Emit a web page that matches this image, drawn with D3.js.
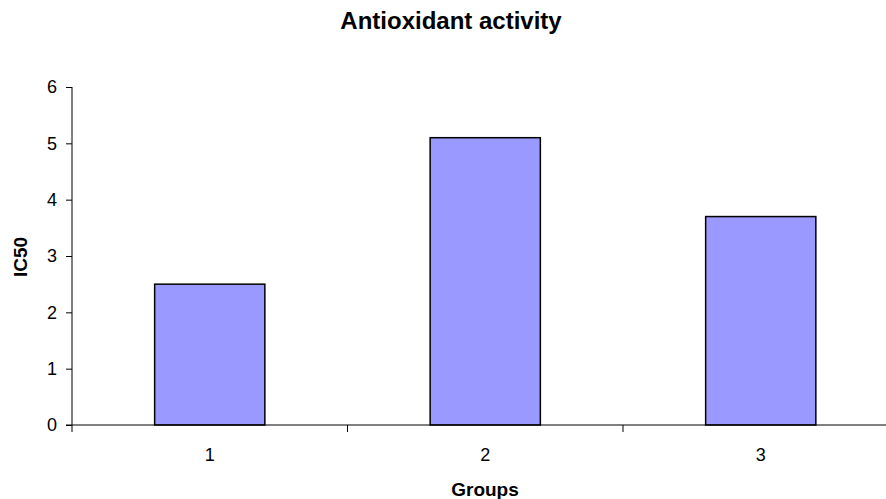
<!DOCTYPE html>
<html><head><meta charset="utf-8">
<script src="https://cdn.jsdelivr.net/npm/d3@7"></script>
<style>body{margin:0;background:#fff}svg{display:block}text{font-family:"Liberation Sans",Arial,sans-serif;fill:#000}</style>
</head><body><svg id="c" width="886" height="499"></svg>
<script>
const categories = ["1", "2", "3"];
const values = [2.5, 5.1, 3.7];
const yTicks = [0, 1, 2, 3, 4, 5, 6];
const title = "Antioxidant activity";
const xTitle = "Groups";
const yTitle = "IC50";

const svg = d3.select("#c");
const x = d3.scaleBand().domain(categories).range([72, 898.5]).paddingInner(0.6).paddingOuter(0.3);
const y = d3.scaleLinear().domain([0, 6]).range([425, 87]);

// bars
svg.append("g").selectAll("rect").data(values).join("rect")
  .attr("x", (d, i) => x(categories[i]))
  .attr("y", d => y(d))
  .attr("width", x.bandwidth())
  .attr("height", d => y(0) - y(d))
  .attr("fill", "#9999FF").attr("stroke", "#000").attr("stroke-width", 1.5);

// y axis
const ya = svg.append("g").attr("transform", "translate(72,0)")
  .call(d3.axisLeft(y).tickValues(yTicks).tickSize(6).tickPadding(9).tickFormat(d3.format("d")));
ya.select(".domain").attr("d", `M0,${y(6)}V${y(0) + 7}`).attr("stroke", "#000");
ya.selectAll("text").style("font-size", "18px").style("font-family", "Liberation Sans, Arial, sans-serif");

// x axis
const xa = svg.append("g").attr("transform", `translate(0,${y(0)})`);
xa.append("line").attr("x1", 66).attr("x2", 900).attr("y1", 0).attr("y2", 0).attr("stroke", "#000");
const bounds = categories.map(c => x(c) + x.bandwidth() / 2 + x.step() / 2);
xa.selectAll("line.t").data(bounds).join("line").attr("class", "t")
  .attr("x1", d => d).attr("x2", d => d).attr("y1", 0).attr("y2", 7).attr("stroke", "#000");
xa.selectAll("text.l").data(categories).join("text").attr("class", "l")
  .attr("x", d => x(d) + x.bandwidth() / 2).attr("y", 36)
  .attr("text-anchor", "middle").style("font-size", "18px").text(d => d);

// titles
svg.append("text").attr("x", 451).attr("y", 29).attr("text-anchor", "middle")
  .style("font-size", "24px").style("font-weight", "bold").text(title);
svg.append("text").attr("x", 485).attr("y", 496).attr("text-anchor", "middle")
  .style("font-size", "19px").style("font-weight", "bold").text(xTitle);
svg.append("text").attr("transform", "translate(27,257) rotate(-90)").attr("text-anchor", "middle")
  .style("font-size", "19px").style("font-weight", "bold").text(yTitle);
</script></body></html>
